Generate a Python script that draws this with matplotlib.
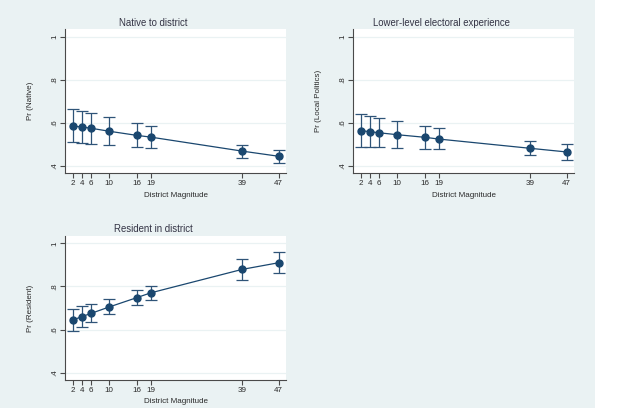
import matplotlib.pyplot as plt
from matplotlib.patches import Rectangle

plt.rcParams['font.family'] = ['Liberation Sans', 'DejaVu Sans']

magnitude = [2, 4, 6, 10, 16, 19, 39, 47]

native = [0.585, 0.581, 0.575, 0.561, 0.542, 0.534, 0.469, 0.445]
native_hi = [0.664, 0.655, 0.646, 0.627, 0.598, 0.585, 0.499, 0.476]
native_lo = [0.510, 0.505, 0.502, 0.497, 0.488, 0.482, 0.439, 0.412]

local = [0.564, 0.559, 0.554, 0.545, 0.533, 0.525, 0.482, 0.465]
local_hi = [0.639, 0.632, 0.624, 0.608, 0.587, 0.576, 0.517, 0.503]
local_lo = [0.490, 0.488, 0.486, 0.483, 0.480, 0.478, 0.449, 0.426]

resident = [0.644, 0.660, 0.675, 0.705, 0.748, 0.770, 0.879, 0.910]
resident_hi = [0.695, 0.709, 0.720, 0.743, 0.782, 0.802, 0.926, 0.958]
resident_lo = [0.592, 0.612, 0.633, 0.671, 0.714, 0.736, 0.831, 0.864]

y_ticks = [0.4, 0.6, 0.8, 1.0]
y_ticklabels = [".4", ".6", ".8", "1"]

navy = '#1a476f'
bg = '#eaf2f3'
txt = '#2a2a2a'

fig = plt.figure(figsize=(6.31, 4.08), dpi=100)
fig.patch.set_facecolor(bg)
# white strip on the right edge of the page
fig.patches.append(Rectangle((595 / 631, 0), 36 / 631, 1, transform=fig.transFigure,
                             facecolor='white', edgecolor='none', zorder=-10))

W, H = 631, 408


def panel(left, top, bottom, title, ylabel, y, lo, hi):
    ax = fig.add_axes([left / W, 1 - bottom / H, 220.7 / W, (bottom - top) / H])
    ax.set_facecolor('white')
    yerr = [[v - l for v, l in zip(y, lo)], [h - v for v, h in zip(y, hi)]]
    ax.errorbar(magnitude, y, yerr=yerr, fmt='none', ecolor='#2f5478',
                elinewidth=0.9, capsize=4.2, capthick=0.9, zorder=3)
    ax.plot(magnitude, y, color=navy, linewidth=0.9, zorder=4)
    ax.plot(magnitude, y, 'o', color=navy, markersize=5, zorder=5)
    ax.set_xlim(0.38, 48.6)
    ax.set_ylim(0.366, 1.034)
    ax.set_xticks(magnitude)
    ax.set_xticklabels([str(m) for m in magnitude])
    ax.set_yticks(y_ticks)
    ax.set_yticklabels(y_ticklabels, rotation=90, va='center')
    ax.grid(axis='y', color=bg, linewidth=0.9)
    ax.set_axisbelow(True)
    for s in ['top', 'right']:
        ax.spines[s].set_visible(False)
    for s in ['left', 'bottom']:
        ax.spines[s].set_color('#4a4a4a')
        ax.spines[s].set_linewidth(0.8)
    ax.tick_params(axis='both', colors='#4a4a4a', labelcolor=txt, labelsize=5.8,
                   length=3.5, width=0.8, pad=1.5)
    ax.set_xlabel("District Magnitude", fontsize=5.8, color=txt, labelpad=3.2)
    ax.set_ylabel(ylabel, fontsize=5.8, color=txt, labelpad=12.5)
    ax.set_title(title, fontsize=6.9, color='#333344', x=0.4, pad=2.6)
    return ax


panel(65.3, 29.3, 173.3, "Native to district", "Pr (Native)",
      native, native_lo, native_hi)
panel(353.3, 29.3, 173.3, "Lower-level electoral experience", "Pr (Local Politics)",
      local, local_lo, local_hi)
panel(65.3, 236.0, 380.0, "Resident in district", "Pr (Resident)",
      resident, resident_lo, resident_hi)

fig.savefig('out.png', dpi=100, facecolor=fig.get_facecolor())
